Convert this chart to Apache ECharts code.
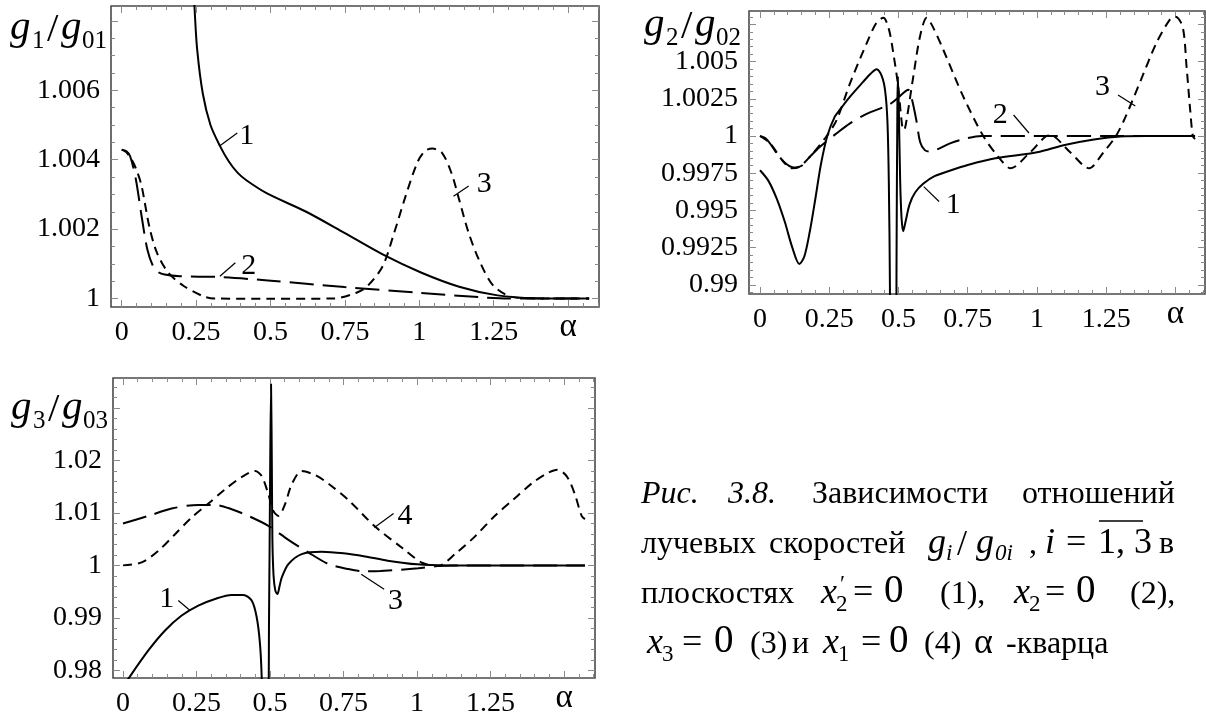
<!DOCTYPE html>
<html>
<head>
<meta charset="utf-8">
<script src="https://cdn.jsdelivr.net/npm/echarts@6/dist/echarts.min.js"></script>
<style>
  html, body { margin: 0; padding: 0; background: #fff; }
  #chart { width: 1206px; height: 718px; }
</style>
</head>
<body>
<div id="chart"></div>
<script>
// --- shared alpha axis ---
const alphaTicks = [0, 0.25, 0.5, 0.75, 1, 1.25, 1.5];
const alphaTickLabels = ['0', '0.25', '0.5', '0.75', '1', '1.25', '{a|α}'];

// --- plot 1: g1/g01 ---
const g1Ticks = [1, 1.002, 1.004, 1.006];
const g1Curve1 = [[0.2, 1.016], [0.215, 1.0128], [0.23, 1.0105], [0.2443, 1.00844], [0.2533, 1.0072], [0.2726, 1.0059], [0.2983, 1.005], [0.33, 1.0044], [0.36, 1.00395], [0.39, 1.00362], [0.42, 1.0034], [0.49, 1.00302], [0.62, 1.0025], [0.7485, 1.00189], [0.877, 1.00127], [1.0056, 1.00075], [1.134, 1.00034], [1.263, 1.00009], [1.391, 1.00001], [1.5708, 1.0]];
const g1Curve2 = [[0, 1.00429], [0.015, 1.00425], [0.0283, 1.0041], [0.0476, 1.00343], [0.0669, 1.00237], [0.0862, 1.00141], [0.1055, 1.00093], [0.125, 1.00075], [0.1441, 1.00069], [0.1956, 1.00064], [0.324, 1.00062], [0.4913, 1.00052], [0.7485, 1.00033], [1.0056, 1.00016], [1.198, 1.00004], [1.3, 1.0], [1.5708, 1.0]];
const g1Curve3 = [[0, 1.00429], [0.015, 1.00422], [0.0335, 1.004], [0.05, 1.0037], [0.0669, 1.00324], [0.0926, 1.00208], [0.1183, 1.00132], [0.1569, 1.00074], [0.2083, 1.00036], [0.2725, 1.00007], [0.311, 1.0], [0.5, 0.99999], [0.71, 1.0], [0.787, 1.00016], [0.826, 1.00036], [0.877, 1.00093], [0.9155, 1.00189], [0.954, 1.00295], [0.993, 1.00391], [1.0185, 1.00425], [1.0443, 1.00432], [1.0764, 1.0042], [1.108, 1.00362], [1.134, 1.00285], [1.166, 1.00189], [1.205, 1.00103], [1.25, 1.00036], [1.314, 1.00004], [1.4, 1.0], [1.5708, 1.0]];
const g1Callouts = [
  ['1', [0.4205, 1.00468], [0.33, 1.0044], [0.3883, 1.00477]],
  ['2', [0.427, 1.00093], [0.330, 1.00064], [0.3819, 1.00103]],
  ['3', [1.218, 1.00329], [1.115, 1.00295], [1.166, 1.00324]]
];

// --- plot 2: g2/g02 ---
const g2Ticks = [0.99, 0.9925, 0.995, 0.9975, 1, 1.0025, 1.005];
const g2Curve1 = [[0, 0.9977], [0.03, 0.997], [0.06, 0.9958], [0.09, 0.9942], [0.115, 0.9926], [0.142, 0.9914], [0.16, 0.9919], [0.18, 0.9936], [0.2, 0.9958], [0.22, 0.9981], [0.243, 1.0], [0.27, 1.0013], [0.29, 1.0018], [0.325, 1.00264], [0.373, 1.00365], [0.4, 1.0042], [0.421, 1.00448], [0.44, 1.004], [0.452, 1.003], [0.46, 1.001], [0.465, 0.997], [0.469, 0.99], [0.473, 0.97], [0.489, 0.97], [0.493, 0.992], [0.496, 1.002], [0.498, 1.004], [0.501, 1.002], [0.506, 0.997], [0.511, 0.9945], [0.517, 0.9936], [0.525, 0.9942], [0.54, 0.9954], [0.56, 0.9962], [0.59, 0.9968], [0.63, 0.9973], [0.69, 0.9977], [0.75, 0.99805], [0.85, 0.9985], [1.0, 0.9989], [1.1, 0.9994], [1.2, 0.99975], [1.3, 0.99997], [1.4, 1.0], [1.5708, 1.0]];
const g2Curve2 = [[0, 1.0], [0.02, 0.99985], [0.04, 0.9994], [0.0602, 0.99884], [0.09, 0.9982], [0.1203, 0.99789], [0.15, 0.998], [0.18, 0.9986], [0.2166, 0.99928], [0.2768, 1.00018], [0.325, 1.00085], [0.385, 1.00148], [0.4693, 1.00215], [0.5234, 1.00298], [0.535, 1.0031], [0.548, 1.0025], [0.565, 1.001], [0.578, 0.9996], [0.595, 0.99905], [0.614, 0.99895], [0.64, 0.9991], [0.686, 0.9995], [0.746, 0.99984], [0.8, 1.0], [1.5708, 1.0]];
const g2Curve3 = [[0, 1.0], [0.0361, 0.99951], [0.0842, 0.99828], [0.1143, 0.99783], [0.14, 0.9979], [0.1805, 0.99861], [0.2407, 1.0], [0.2768, 1.00108], [0.325, 1.00354], [0.385, 1.00623], [0.42, 1.0076], [0.4452, 1.00795], [0.465, 1.0072], [0.4813, 1.00556], [0.499, 1.00332], [0.51, 1.0012], [0.5174, 1.0004], [0.523, 1.0005], [0.5295, 1.0011], [0.5535, 1.004], [0.5776, 1.00668], [0.6017, 1.00795], [0.625, 1.0073], [0.662, 1.00578], [0.734, 1.00264], [0.806, 1.0], [0.86, 0.99861], [0.905, 0.99783], [0.975, 0.9989], [1.047, 1.00007], [1.12, 0.9989], [1.188, 0.99783], [1.24, 0.9989], [1.285, 1.0], [1.32, 1.0013], [1.375, 1.00376], [1.431, 1.00625], [1.479, 1.0078], [1.5, 1.00802], [1.526, 1.00733], [1.54, 1.00464], [1.553, 1.00175], [1.5625, 1.0], [1.5708, 0.9998]];
const g2Callouts = [
  ['1', [0.698, 0.99536], [0.591, 0.9966], [0.6465, 0.9956]],
  ['2', [0.867, 1.00141], [0.9155, 1.00141], [0.971, 1.0002]],
  ['3', [1.2365, 1.00327], [1.2925, 1.00276], [1.355, 1.00202]]
];

// --- plot 3: g3/g03 ---
const g3Ticks = [0.98, 0.99, 1, 1.01, 1.02];
const g3Curve1 = [[0, 0.9768], [0.018, 0.9784], [0.0862, 0.9838], [0.143, 0.9876], [0.1995, 0.99045], [0.256, 0.99235], [0.313, 0.99361], [0.3696, 0.99437], [0.4093, 0.99437], [0.4376, 0.9933], [0.4546, 0.99013], [0.4658, 0.98507], [0.4716, 0.97875], [0.474, 0.97], [0.492, 0.97], [0.4966, 0.99], [0.5, 1.015], [0.5034, 1.0345], [0.506, 1.02], [0.508, 1.005], [0.512, 0.998], [0.518, 0.9952], [0.525, 0.99456], [0.533, 0.9962], [0.54, 0.99772], [0.5624, 1.00025], [0.6077, 1.00215], [0.6757, 1.0026], [0.75, 1.0023], [0.823, 1.0017], [0.9, 1.0009], [1.0, 1.0002], [1.1, 1.0], [1.5708, 1.0]];
const g3Curve3 = [[0, 1.00797], [0.0862, 1.00942], [0.1655, 1.01082], [0.256, 1.01151], [0.313, 1.01151], [0.3696, 1.01069], [0.426, 1.00942], [0.4943, 1.00753], [0.5624, 1.00487], [0.63, 1.00247], [0.699, 1.00025], [0.766, 0.9993], [0.823, 0.99886], [0.875, 0.99892], [1.004, 0.99943], [1.069, 0.99987], [1.12, 1.0], [1.5708, 1.0]];
const g3Curve4 = [[0, 1.0], [0.0635, 1.00057], [0.1202, 1.00278], [0.1769, 1.00594], [0.2336, 1.00911], [0.2902, 1.01176], [0.347, 1.01448], [0.4036, 1.01682], [0.449, 1.01796], [0.4717, 1.01701], [0.4943, 1.01354], [0.5113, 1.01037], [0.5283, 1.00942], [0.551, 1.01164], [0.5737, 1.01543], [0.6077, 1.01796], [0.6531, 1.0172], [0.7, 1.0155], [0.771, 1.0122], [0.855, 1.0075], [0.952, 1.0032], [1.017, 1.0005], [1.069, 0.99987], [1.134, 1.0024], [1.198, 1.00557], [1.263, 1.00936], [1.327, 1.01252], [1.392, 1.01569], [1.444, 1.01758], [1.477, 1.01822], [1.509, 1.01695], [1.535, 1.01379], [1.56, 1.00936], [1.5708, 1.0088]];
const g3Callouts = [
  ['1', [0.1485, 0.99361], [0.188, 0.9933], [0.228, 0.9914]],
  ['3', [0.9266, 0.99323], [0.81, 0.99829], [0.888, 0.99545]],
  ['4', [0.959, 1.00936], [0.855, 1.0072], [0.92, 1.00987]]
];

const SERIF = '"Liberation Serif", "Times New Roman", serif';
const SOLID = 'solid';
const LONG = [24, 9];
const SHORT = [9, 6];

const grids = [
  { left: 111, top: 6, width: 488, height: 301, x: [-0.036, 1.604], y: [0.999755, 1.00843],
    labels: g1Ticks, majors: [1, 1.002, 1.004, 1.006, 1.008], minorStep: 0.0005 },
  { left: 749, top: 11, width: 456, height: 283, x: [-0.0397, 1.6065], y: [0.98938, 1.0084],
    labels: g2Ticks, majors: [0.99, 0.9925, 0.995, 0.9975, 1, 1.0025, 1.005, 1.0075], minorStep: 0.0005 },
  { left: 113, top: 378, width: 482, height: 301, x: [-0.034, 1.605], y: [0.97856, 1.03567],
    labels: g3Ticks, majors: [0.98, 0.99, 1, 1.01, 1.02, 1.03], minorStep: 0.002 }
];

function steps(lo, hi, step) {
  const out = [];
  for (let k = Math.ceil((lo - 1) / step); 1 + k * step <= hi; k++) out.push(+(1 + k * step).toFixed(6));
  return out;
}
function fmt(v) { return String(+v.toFixed(6)); }

const tickStyle = { color: '#8a8a8a', width: 1 };
const xAxes = [], yAxes = [];
grids.forEach((g, gi) => {
  const xMinor = [];
  for (let k = 0; k * 0.05 <= g.x[1]; k++) xMinor.push(+(k * 0.05).toFixed(3));
  const yMinor = steps(g.y[0], g.y[1], g.minorStep);
  [['bottom', true], ['bottom', false], ['top', true], ['top', false]].forEach(([pos, major]) => {
    xAxes.push({
      type: 'value', gridIndex: gi, position: pos, min: g.x[0], max: g.x[1],
      axisLine: { show: false, onZero: false }, splitLine: { show: false },
      axisTick: { show: true, inside: true, length: major ? 7 : 4, customValues: major ? alphaTicks : xMinor, lineStyle: tickStyle },
      axisLabel: {
        show: pos === 'bottom' && major, customValues: alphaTicks, margin: 12,
        fontFamily: SERIF, fontSize: 28, color: '#000',
        rich: { a: { fontFamily: SERIF, fontSize: 33, lineHeight: 16, color: '#000' } },
        formatter: v => alphaTickLabels[alphaTicks.indexOf(+v.toFixed(3))] || ''
      }
    });
  });
  [['left', true], ['left', false], ['right', true], ['right', false]].forEach(([pos, major]) => {
    yAxes.push({
      type: 'value', gridIndex: gi, position: pos, min: g.y[0], max: g.y[1],
      axisLine: { show: false, onZero: false }, splitLine: { show: false },
      axisTick: { show: true, inside: true, length: major ? 7 : 4, customValues: major ? g.majors : yMinor, lineStyle: tickStyle },
      axisLabel: {
        show: pos === 'left' && major, customValues: g.labels, margin: 11,
        fontFamily: SERIF, fontSize: 28, color: '#000', formatter: fmt
      }
    });
  });
});

function curve(gi, data, dash, callouts) {
  const s = {
    type: 'line', xAxisIndex: gi * 4, yAxisIndex: gi * 4, data: data,
    showSymbol: false, smooth: 0.3, clip: true, silent: true,
    lineStyle: { color: '#000', width: 2, type: dash }
  };
  if (callouts) {
    s.markLine = {
      silent: true, symbol: ['none', 'none'], label: { show: false },
      lineStyle: { color: '#000', width: 1.2, type: 'solid' },
      data: callouts.map(c => [{ coord: c[2] }, { coord: c[3] }])
    };
    s.markPoint = {
      silent: true, symbol: 'rect', symbolSize: 1, itemStyle: { color: 'rgba(0,0,0,0)' },
      label: { show: true, position: 'inside', fontFamily: SERIF, fontSize: 30, color: '#000', formatter: p => p.name },
      data: callouts.map(c => ({ name: c[0], coord: c[1] }))
    };
  }
  return s;
}

const series = [
  curve(0, g1Curve1, SOLID, g1Callouts), curve(0, g1Curve2, LONG), curve(0, g1Curve3, SHORT),
  curve(1, g2Curve1, SOLID, g2Callouts), curve(1, g2Curve2, LONG), curve(1, g2Curve3, SHORT),
  curve(2, g3Curve1, SOLID, g3Callouts), curve(2, g3Curve3, LONG), curve(2, g3Curve4, SHORT)
];

// text helpers (placed by baseline)
function t(x, base, s, size, italic) {
  const font = (italic ? 'italic ' : '') + size + 'px ' + SERIF;
  return { type: 'text', x: x, y: base - 0.33 * size, silent: true,
    style: { text: s, font: font, fill: '#000', align: 'left', verticalAlign: 'middle', textAlign: 'left', textVerticalAlign: 'middle' } };
}
function ratioTitle(x, base, i) {
  return [
    t(x, base, 'g', 41, true), t(x + 22, base + 8, String(i), 25, false),
    t(x + 37, base + 2, '/', 41, false), t(x + 51, base, 'g', 41, true),
    t(x + 72, base + 8, '0' + i, 25, false)
  ];
}

const capSize = 32, mathSize = 36, subSize = 23;
const graphic = [].concat(
  ratioTitle(10, 42, 1), ratioTitle(644, 39, 2), ratioTitle(11, 422, 3),
  [
    t(641, 505, 'Рис.', capSize, true), t(728, 505, '3.8.', capSize, true),
    t(812, 505, 'Зависимости', capSize), t(1022, 505, 'отношений', capSize),

    t(641, 555, 'лучевых', capSize), t(769, 555, 'скоростей', capSize),
    t(928, 555, 'g', mathSize, true), t(946, 562, 'i', subSize, true),
    t(957, 557, '/', mathSize), t(976, 555, 'g', mathSize, true), t(995, 562, '0i', subSize, true),
    t(1029, 555, ',', capSize), t(1045, 555, 'i', mathSize, true), t(1066, 555, '=', mathSize),
    t(1098, 555, '1, 3', mathSize), t(1159, 555, 'в', capSize),
    { type: 'line', silent: true, shape: { x1: 1099, y1: 521, x2: 1143, y2: 521 }, style: { stroke: '#000', lineWidth: 1.5 } },

    t(641, 605, 'плоскостях', capSize),
    t(821, 605, 'x', mathSize, true), t(840, 593, '′', subSize), t(836, 613, '2', subSize),
    t(853, 605, '=', mathSize), t(884, 605, '0', mathSize + 3),
    t(940, 605, '(1),', capSize),
    t(1014, 605, 'x', mathSize, true), t(1029, 613, '2', subSize),
    t(1045, 605, '=', mathSize), t(1076, 605, '0', mathSize + 3),
    t(1130, 605, '(2),', capSize),

    t(647, 655, 'x', mathSize, true), t(662, 663, '3', subSize),
    t(682, 655, '=', mathSize), t(714, 655, '0', mathSize + 3),
    t(750, 655, '(3)', capSize), t(792, 655, 'и', capSize),
    t(823, 655, 'x', mathSize, true), t(838, 663, '1', subSize),
    t(861, 655, '=', mathSize), t(889, 655, '0', mathSize + 3),
    t(924, 655, '(4)', capSize), t(974, 655, 'α', mathSize), t(1006, 655, '-кварца', capSize)
  ]
);

const chart = echarts.init(document.getElementById('chart'), null, { renderer: 'canvas' });
chart.setOption({
  animation: false,
  backgroundColor: '#fff',
  grid: grids.map(g => ({ left: g.left, top: g.top, width: g.width, height: g.height, show: true,
    borderColor: '#4a4a4a', borderWidth: 1.6, backgroundColor: 'transparent', containLabel: false })),
  xAxis: xAxes,
  yAxis: yAxes,
  series: series,
  graphic: graphic
});
</script>
</body>
</html>
